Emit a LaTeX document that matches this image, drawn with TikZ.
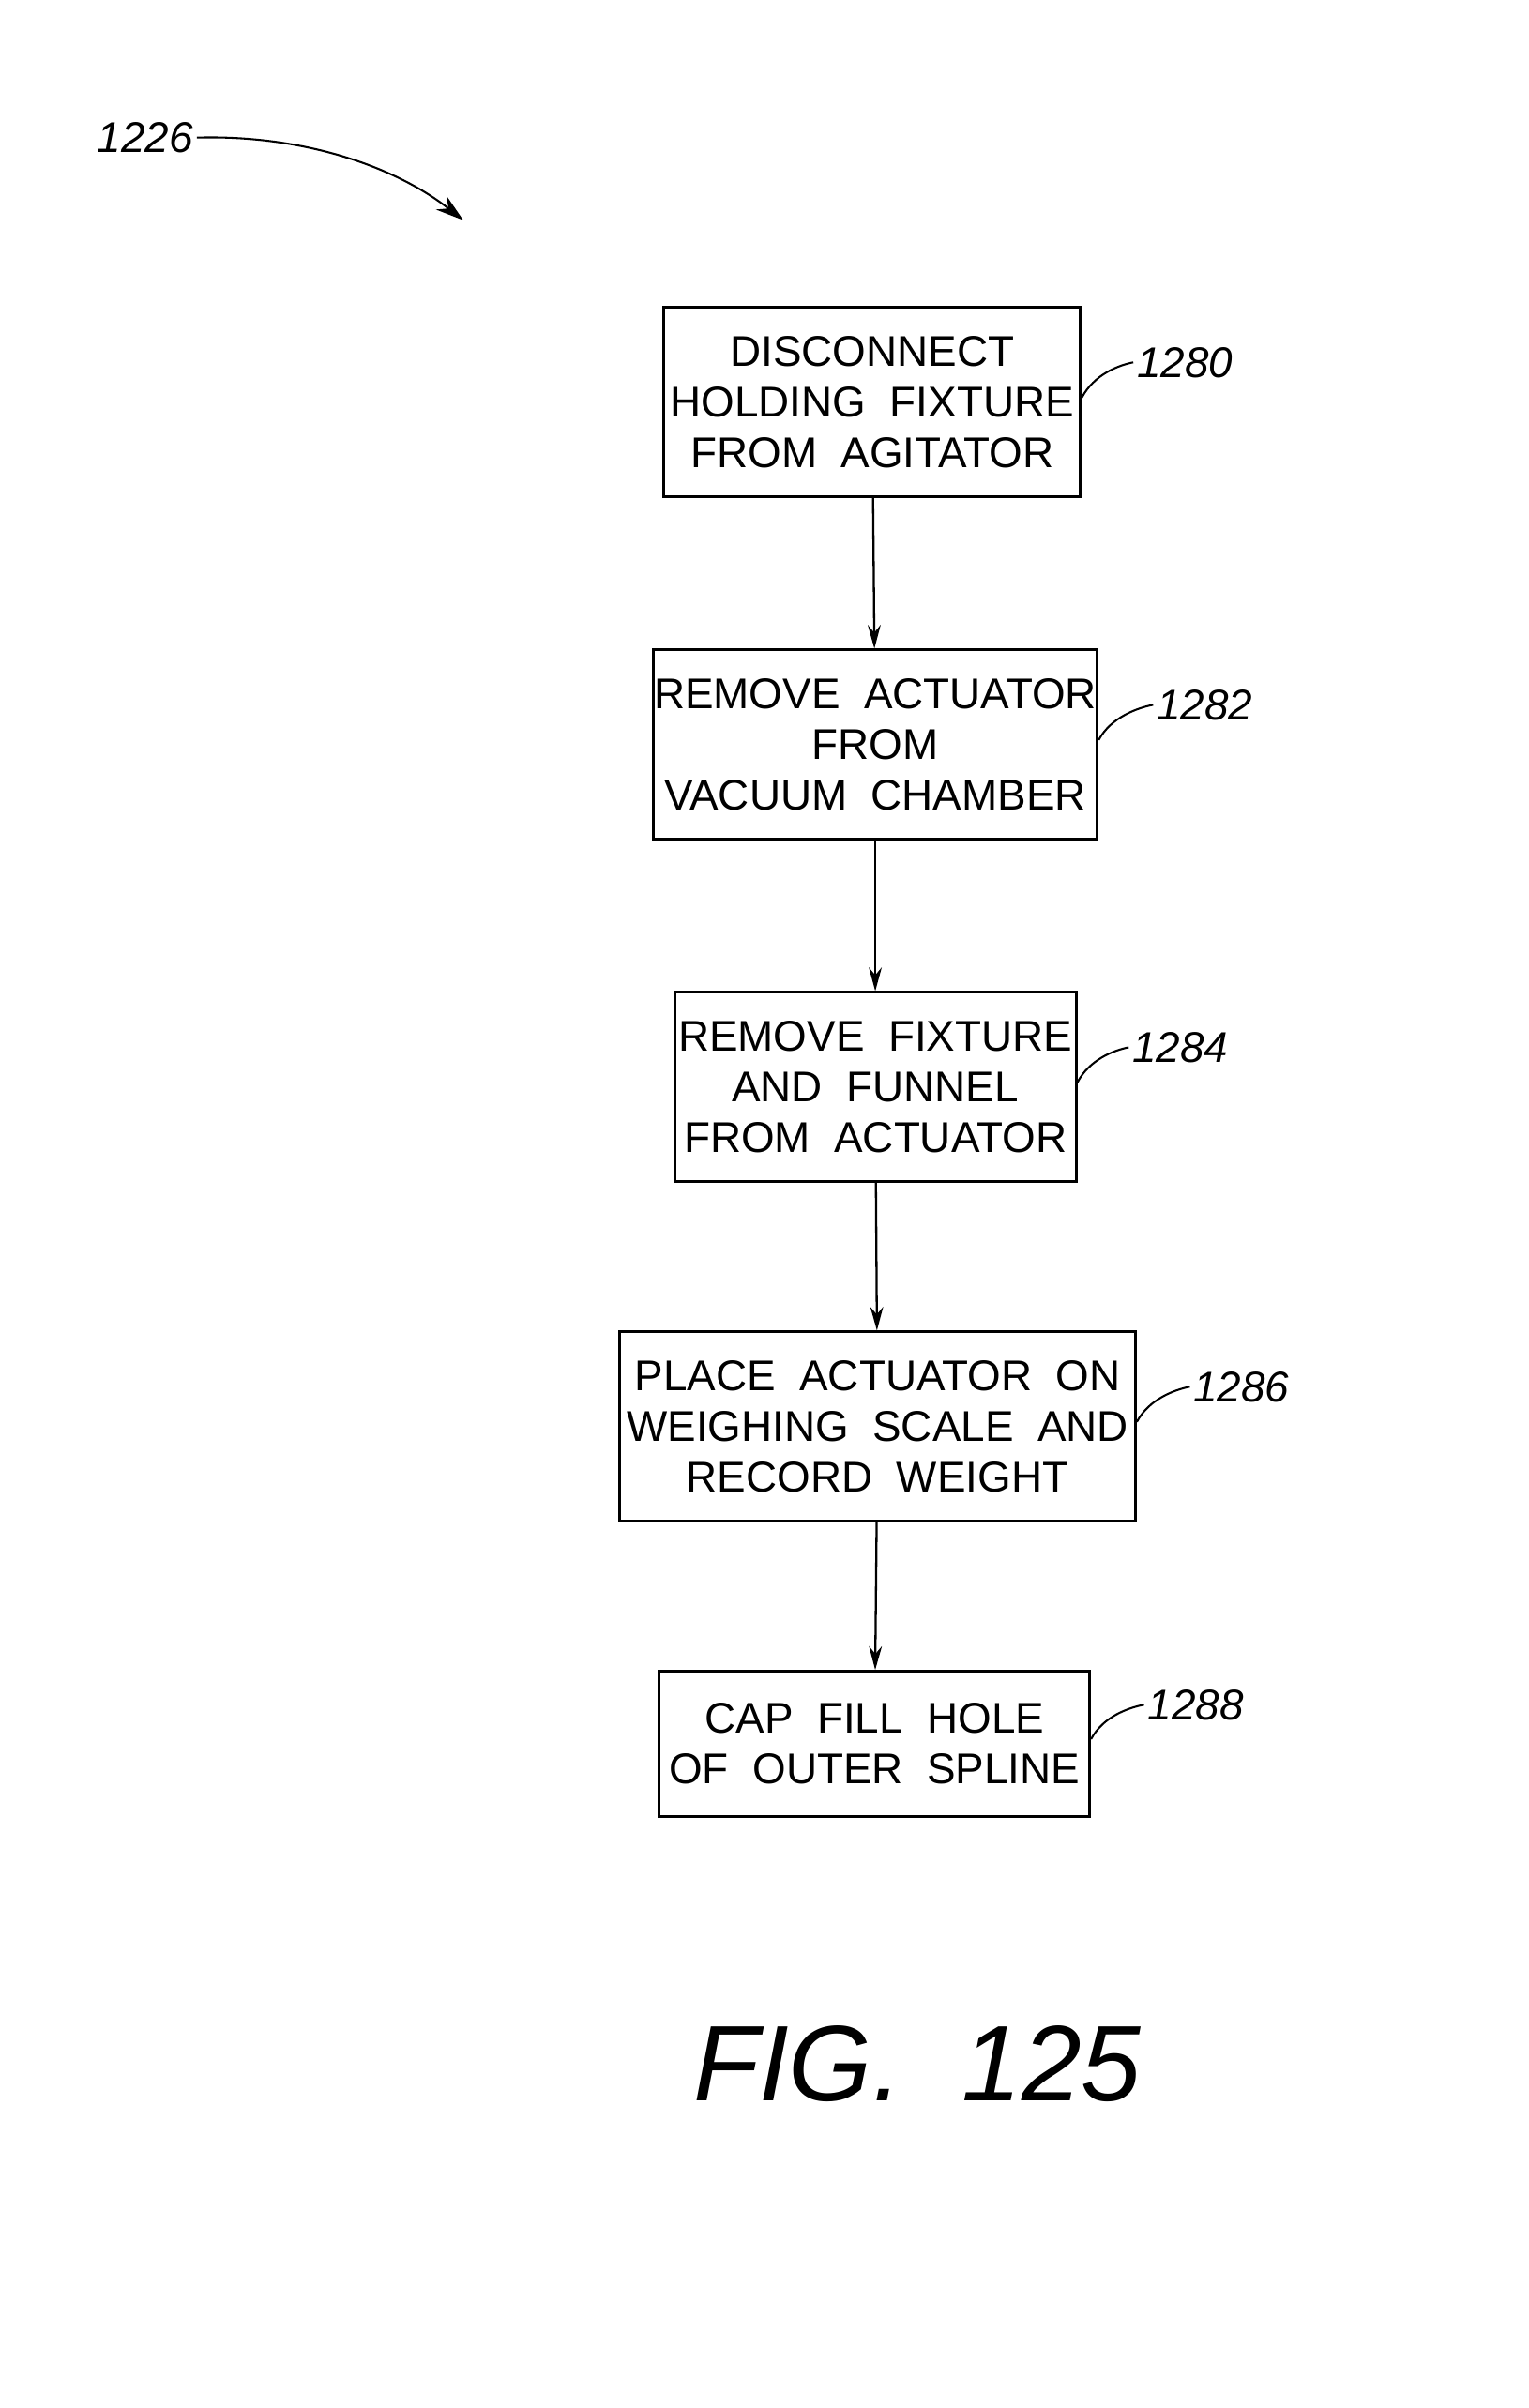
\documentclass[tikz,border=0pt]{standalone}
\usepackage{fontspec}
\setmainfont{Liberation Sans}
\usetikzlibrary{arrows.meta}
\begin{document}
\begin{tikzpicture}[x=0.05cm,y=-0.05cm,
 box/.style={draw,line width=2.6pt,inner sep=0pt,align=center,font=\fontsize{40}{47}\selectfont},
 lab/.style={font=\fontsize{40}{40}\selectfont\itshape},
 conn/.style={line width=2pt,-{Stealth[length=22pt,width=12pt]}},
 lead/.style={line width=1.8pt}]
\useasboundingbox (0,0) rectangle (1000,1575);
\node[box,minimum width=273*1.42pt,minimum height=124*1.42pt] (b1) at (570.5,263) {DISCONNECT\\HOLDING\ \ FIXTURE\\FROM\ \ AGITATOR};
\node[box,minimum width=291*1.42pt,minimum height=124*1.42pt] (b2) at (572.5,487) {REMOVE\ \ ACTUATOR\\FROM\\VACUUM\ \ CHAMBER};
\node[box,minimum width=263*1.42pt,minimum height=124*1.42pt] (b3) at (572.5,711) {REMOVE\ \ FIXTURE\\AND\ \ FUNNEL\\FROM\ \ ACTUATOR};
\node[box,minimum width=338*1.42pt,minimum height=124*1.42pt] (b4) at (574,933) {PLACE\ \ ACTUATOR\ \ ON\\WEIGHING\ \ SCALE\ \ AND\\RECORD\ \ WEIGHT};
\node[box,minimum width=282*1.42pt,minimum height=95*1.42pt] (b5) at (572,1140.5) {CAP\ \ FILL\ \ HOLE\\OF\ \ OUTER\ \ SPLINE};
\draw[conn] (b1) -- (b2);
\draw[conn] (b2) -- (b3);
\draw[conn] (b3) -- (b4);
\draw[conn] (b4) -- (b5);
\node[lab] (l1) at (775,237) {1280};
\node[lab] (l2) at (788,461) {1282};
\node[lab] (l3) at (772,685) {1284};
\node[lab] (l4) at (812,907) {1286};
\node[lab] (l5) at (782,1115) {1288};
\draw[lead] (b1.east) ++(0,-3) .. controls +(8,-15) and +(-10,2) .. (l1.west);
\draw[lead] (b2.east) ++(0,-3) .. controls +(8,-15) and +(-10,2) .. (l2.west);
\draw[lead] (b3.east) ++(0,-3) .. controls +(8,-15) and +(-10,2) .. (l3.west);
\draw[lead] (b4.east) ++(0,-3) .. controls +(8,-15) and +(-10,2) .. (l4.west);
\draw[lead] (b5.east) ++(0,-3) .. controls +(8,-15) and +(-10,2) .. (l5.west);
\node[lab] (l0) at (95,90) {1226};
\coordinate (t0) at (303,144);
\draw[lead,-{Stealth[length=26pt,width=16pt]}] (l0.east) .. controls (200,88) and (260,110) .. (t0);
\node[font=\fontsize{100}{100}\selectfont\itshape] (fig) at (600,1350) {FIG.\ \ 125};
\end{tikzpicture}
\end{document}
